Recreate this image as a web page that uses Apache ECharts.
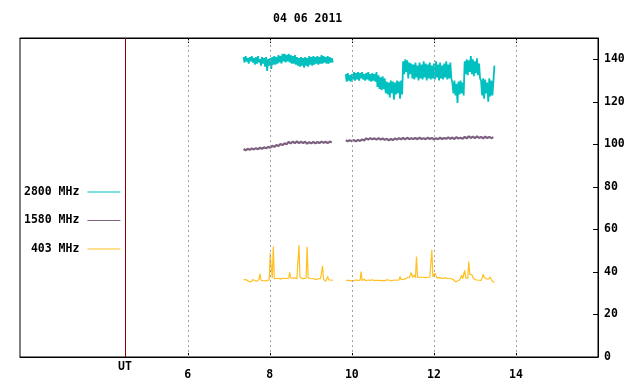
<!DOCTYPE html>
<html><head><meta charset="utf-8">
<script src="https://cdn.jsdelivr.net/npm/echarts@6/dist/echarts.min.js"></script>
<style>html,body{margin:0;padding:0;background:#fff}#c{width:640px;height:384px}</style>
</head><body><div id="c"></div>
<script>
// ---- data ----
const chartTitle = '04 06 2011';
const seriesNames = ['2800 MHz', '1580 MHz', '403 MHz'];
const seriesColors = ['#00c0c0', '#7e6080', '#ffc020'];
const xTicks = [6, 8, 10, 12, 14];
const xMin = 1.91, xMax = 16;
const utMark = 4.47;
const utLabel = 'UT';
const yMin = 0, yMax = 150, yStep = 20;

// sampling of each recorded segment (hours UT)
const seg1Start = 7.36, seg2Start = 9.85, gapTime = 9.7;
const fineStep = 0.025, coarseStep = 0.05;

// 2800 MHz (sfu)
const mhz2800a = [
  141, 138.5, 141.5, 139, 140.5, 138, 141, 139, 141.5, 138.5,
  140.5, 137.5, 141, 138, 141.5, 138.5, 140, 137, 141, 138,
  140.5, 136.5, 141, 134.5, 140, 137, 140.5, 135.5, 141, 137.5,
  141.5, 137.5, 141, 138, 142, 138.5, 141.5, 138, 142.5, 139,
  142.5, 138.5, 142, 139, 142.5, 138.5, 142, 138, 141.5, 138,
  142, 137.5, 141, 137, 140.5, 136.5, 141, 137, 140.5, 136,
  141, 137, 140.5, 136.5, 141.5, 137.5, 141, 137, 141.5, 137.5,
  141, 138, 141.5, 137.5, 141, 138, 142, 138, 141.5, 138.5,
  141, 138, 141.5, 138, 141, 138.5, 140.5, 138.5
];
const mhz2800b = [
  133, 129.5, 133.5, 130, 132.5, 129.5, 133, 130.5, 134, 130,
  133.5, 130.5, 134, 130, 133.5, 131, 134, 130.5, 133, 130,
  133.5, 130.5, 134, 130, 133, 129.5, 133.5, 130, 133, 129.5, 134,
  127, 132.5, 126, 131.5, 125.5, 132, 126, 131,
  124, 129.5, 123.5, 129, 122, 130, 124, 129.5, 121, 129, 123.5, 130, 124, 129.5, 121.5, 130, 123.5,
  139, 133, 140, 134, 139.5, 131, 138.5, 133,
  138, 131, 137.5, 130.5, 138.5, 131.5, 137, 130, 138.5, 131,
  137.5, 130.5, 139, 131.5, 138, 130, 137.5, 131, 138.5, 130.5,
  137, 131, 138, 130.5, 139, 131.5, 137.5, 130, 138.5, 131,
  137, 130.5, 138, 131.5, 139, 130.5, 137.5, 131, 138.5, 131,
  129, 124, 130, 123, 128.5, 119.5, 129.5, 123.5, 130, 124, 129, 123,
  139, 133, 140, 132.5, 139.5, 134, 141.5, 133, 140, 132, 139, 133.5, 140.5, 132.5, 138, 131,
  130, 123, 131, 121.5, 130.5, 124, 129, 120, 131, 122.5, 130, 123, 129.5, 137
];

// 1580 MHz (sfu)
const mhz1580a = [
  97.8, 97.2, 97.9, 97.4, 98.1, 97.6, 98.2, 97.7, 98.4, 97.9,
  98.6, 98.1, 98.8, 98.4, 99.3, 98.8, 99.7, 99.2, 100.2, 99.6,
  100.5, 100.0, 101.2, 100.4, 101.3, 100.6, 101.4, 100.5, 101.3, 100.6,
  101.2, 100.3, 101.0, 100.5, 101.2, 100.4, 101.1, 100.6, 101.3, 100.7,
  101.2, 100.6, 101.3, 100.9
];
const mhz1580b = [
  101.9, 101.5, 101.9, 101.5, 102.0, 101.4, 102.1, 101.6, 102.3, 101.8,
  102.8, 102.3, 102.9, 102.4, 102.8, 102.2, 102.9, 102.3, 102.7, 102.2,
  102.6, 101.9, 102.5, 102.0, 102.8, 102.3, 102.9, 102.4, 103.0, 102.3,
  103.1, 102.4, 102.9, 102.5, 103.0, 102.4, 103.1, 102.5, 102.9, 102.4,
  103.2, 102.5, 103.0, 102.3, 102.9, 102.4, 103.1, 102.5, 103.0, 102.6,
  103.3, 102.6, 103.2, 102.5, 103.4, 102.7, 103.1, 102.6, 103.5, 102.8,
  103.8, 103.0, 103.6, 102.9, 103.7, 103.0, 103.5, 102.8, 103.6, 103.0,
  103.5, 102.9, 103.4
];

// 403 MHz (sfu)
const mhz403a = [
  36.3, 36.2, 36.4, 36.1, 35.9, 35.6, 35.3, 35.6, 35.5, 36.5,
  37.2, 35.8, 35.2, 35.7, 36.4, 36.5, 39.1, 36.1, 36.3, 35.9,
  36.2, 35.8, 36.3, 36.0, 36.5, 36.2, 48.9, 42.0, 37.2, 52.0,
  36.8, 36.6, 36.9, 36.7, 37.0, 36.8, 36.6, 37.1, 37.0, 37.2,
  36.9, 37.1, 37.0, 37.3, 37.1, 39.8, 37.2, 37.0, 37.1, 36.9,
  37.2, 37.0, 36.8, 37.1, 52.5, 37.8, 37.1, 36.9, 37.3, 36.9,
  37.0, 37.1, 51.8, 37.1, 36.6, 36.9, 37.4, 36.8, 36.2, 36.7,
  37.1, 36.4, 36.8, 36.9, 37.0, 36.8, 39.8, 42.9, 36.5, 36.4,
  35.6, 36.4, 37.9, 36.3, 36.1, 36.2, 36.3, 36.0
];
const mhz403b = [
  36.1, 35.8, 36.0, 36.2, 35.9, 36.0, 35.8, 36.1, 35.9, 36.0,
  36.2, 35.9, 36.0, 35.8, 36.1, 40.2, 36.0, 36.3, 36.5, 36.1,
  35.9, 36.0, 36.2, 35.8, 36.0, 36.8, 36.3, 36.0, 35.9, 36.1,
  36.0, 35.8, 36.1, 36.0, 35.9, 36.2, 36.0, 36.1, 35.8, 36.0,
  36.3, 36.8, 36.2, 36.0, 35.9, 36.1, 36.0, 35.8, 36.2, 36.0,
  36.1, 36.0, 36.3, 37.9, 36.4, 36.8, 36.5, 37.0, 36.7, 37.1,
  37.3, 36.9, 37.4, 37.2, 39.7, 37.5, 37.0, 38.5, 37.3, 47.3,
  37.4, 37.1, 37.5, 37.3, 37.6, 37.2, 37.4, 37.6, 37.3, 37.1,
  37.5, 37.2, 37.6, 37.4, 50.4, 37.8, 38.2, 39.4, 38.6, 37.2,
  37.0, 37.3, 36.8, 37.1, 37.2, 36.9, 37.0, 37.2, 36.8, 37.0,
  36.7, 36.9, 36.5, 36.8, 36.6, 36.4, 35.6, 35.4, 35.5, 35.7,
  35.4, 36.2, 36.5, 38.5, 36.8, 36.4, 40.7, 37.3, 36.8, 37.0,
  44.9, 38.8, 38.6, 38.8, 37.5, 36.8, 36.4, 36.0, 36.2, 35.9,
  36.1, 36.3, 36.0, 37.0, 39.0, 37.5, 37.3, 36.8, 37.2, 36.6,
  36.9, 37.5, 36.3, 35.6, 35.2, 35.3
];

// ---- build ----
function build(start, step, vals) {
  return vals.map((v, i) => [+(start + i * step).toFixed(4), v]);
}
function joined(a, b, step) {
  return build(seg1Start, step, a).concat([[gapTime, '-']], build(seg2Start, step, b));
}
const FONT = 'DejaVu Sans Mono';
const txt = { color: '#000', fontFamily: FONT, fontWeight: 'bold', fontSize: 11.5 };

const chart = echarts.init(document.getElementById('c'), null, { renderer: 'canvas' });
const gridLines = xTicks.map(v => ({
  xAxis: v, lineStyle: { color: '#a0a0a0', type: [2, 3], width: 1 }, label: { show: false }
}));
gridLines.push({
  xAxis: utMark, lineStyle: { color: '#8b0000', type: 'solid', width: 1 },
  label: { show: true, position: 'start', formatter: utLabel, distance: 4, ...txt }
});

chart.setOption({
  animation: false,
  backgroundColor: '#fff',
  title: { text: chartTitle, left: 268, top: 8, textStyle: { ...txt } },
  legend: {
    orient: 'vertical', left: 19, top: 180, align: 'right',
    itemWidth: 33, itemHeight: 1, itemGap: 14.5, icon: 'rect',
    formatter: n => n.padStart(8, ' '),
    textStyle: { ...txt, lineHeight: 14, padding: [0, 3, 0, 0] },
    selectedMode: false
  },
  grid: { left: 20, right: 42, top: 38, bottom: 27, show: true, borderColor: '#000', borderWidth: 1 },
  xAxis: [
    {
      type: 'value', position: 'bottom', min: xMin, max: xMax,
      axisLine: { show: true, lineStyle: { color: '#000', width: 1 } },
      axisTick: { show: true, inside: true, length: 4, customValues: xTicks, lineStyle: { color: '#000' } },
      axisLabel: { show: true, customValues: xTicks, margin: 12, ...txt },
      splitLine: { show: false }
    },
    {
      type: 'value', position: 'top', min: xMin, max: xMax,
      axisLine: { show: true, lineStyle: { color: '#000', width: 1 } },
      axisTick: { show: true, inside: true, length: 5, customValues: xTicks, lineStyle: { color: '#000' } },
      axisLabel: { show: false },
      splitLine: { show: false }
    }
  ],
  yAxis: {
    type: 'value', position: 'right', min: yMin, max: yMax, interval: yStep,
    axisLine: { show: true, lineStyle: { color: '#000', width: 1 } },
    axisTick: { show: true, inside: true, length: 5, lineStyle: { color: '#000' } },
    axisLabel: { showMaxLabel: false, margin: 6, ...txt },
    splitLine: { show: false }
  },
  series: [
    {
      name: seriesNames[0], type: 'line', showSymbol: false, symbol: 'none',
      data: joined(mhz2800a, mhz2800b, fineStep), connectNulls: false,
      lineStyle: { color: seriesColors[0], width: 1.8 }, itemStyle: { color: seriesColors[0] },
      z: 3,
      markLine: { silent: true, symbol: 'none', animation: false, data: gridLines }
    },
    {
      name: seriesNames[1], type: 'line', showSymbol: false, symbol: 'none',
      data: joined(mhz1580a, mhz1580b, coarseStep), connectNulls: false,
      lineStyle: { color: seriesColors[1], width: 2.2 }, itemStyle: { color: seriesColors[1] }, z: 3
    },
    {
      name: seriesNames[2], type: 'line', showSymbol: false, symbol: 'none',
      data: joined(mhz403a, mhz403b, fineStep), connectNulls: false,
      lineStyle: { color: seriesColors[2], width: 1.2 }, itemStyle: { color: seriesColors[2] }, z: 3
    }
  ]
});
</script>
</body></html>
